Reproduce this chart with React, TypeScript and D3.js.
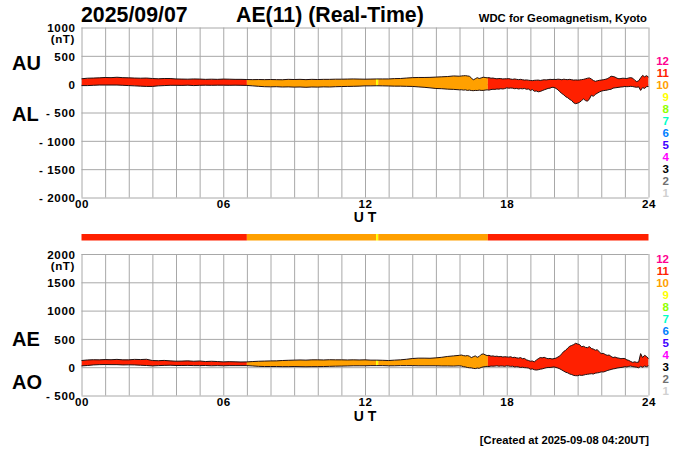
import * as d3 from 'd3'
import React, { useEffect, useRef } from 'react'

// every 15 minutes up to 16 UT, every 5 minutes after that
const au = [
    95, 105, 108, 112, 118, 115, 122, 115, 112, 108, 105, 108, 100, 95, 100, 100,
    92, 90, 88, 92, 90, 85, 88, 85, 90, 88, 85, 85, 82, 80, 82, 80,
    82, 80, 78, 85, 82, 85, 80, 85, 82, 85, 85, 88, 88, 90, 92, 90,
    88, 90, 92, 92, 92, 98, 100, 108, 115, 118, 118, 120, 125, 130, 135, 145,
    140, 145, 148, 150, 145, 140, 112, 75, 95, 115, 100, 110,
    123, 118, 112, 115, 105, 108, 100, 95, 100, 98, 92, 95,
    95, 98, 90, 85, 92, 85, 80, 85, 78, 72, 75, 70,
    65, 62, 68, 70, 72, 65, 72, 78, 75, 80, 85, 82,
    85, 82, 88, 85, 78, 88, 82, 80, 85, 78, 72, 75,
    72, 75, 80, 85, 95, 105, 110, 90, 65, 50, 60, 68,
    72, 78, 85, 95, 115, 140, 135, 125, 105, 95, 100, 105,
    102, 100, 110, 115, 105, 70, 45, 60, 110, 155, 130, 150,
    125,
]
const al = [
    -25, -25, -20, -15, -15, -15, -15, -20, -25, -30, -35, -40, -40, -30, -25, -20,
    -20, -22, -18, -25, -20, -18, -20, -18, -18, -20, -18, -20, -22, -30, -38, -45,
    -47, -45, -50, -48, -52, -50, -55, -50, -52, -48, -50, -45, -42, -40, -38, -35,
    -30, -30, -28, -30, -32, -35, -35, -38, -40, -48, -55, -65, -76, -80, -88, -92,
    -100, -98, -105, -100, -110, -105, -112, -115, -110, -112, -105, -110,
    -110, -105, -100, -105, -95, -90, -92, -85, -88, -80, -85, -78,
    -65, -72, -68, -70, -80, -75, -85, -78, -82, -75, -90, -85,
    -110, -95, -125, -120, -135, -128, -115, -100, -88, -75, -70, -55,
    -58, -75, -100, -135, -165, -190, -223, -240, -270, -290, -330, -345,
    -335, -320, -290, -260, -290, -300, -260, -195, -215, -180, -160, -140,
    -123, -115, -110, -105, -95, -90, -70, -65, -60, -55, -50, -48,
    -40, -45, -42, -38, -42, -50, -55, -48, -110, -60, -75, -45,
    -40,
]
const ae = [
    118, 128, 132, 130, 135, 132, 138, 130, 130, 138, 135, 140, 118, 115, 120, 112,
    106, 108, 112, 105, 110, 100, 105, 100, 94, 98, 95, 92, 94, 100, 105, 108,
    111, 112, 118, 122, 125, 128, 125, 130, 130, 128, 132, 130, 130, 128, 130, 128,
    130, 125, 125, 122, 118, 125, 130, 140, 153, 160, 160, 158, 165, 175, 190, 200,
    210, 215, 205, 200, 205, 195, 170, 185, 200, 175, 190, 225,
    235, 220, 205, 210, 195, 200, 190, 195, 185, 190, 180, 185,
    182, 178, 185, 170, 175, 165, 160, 170, 150, 155, 130, 120,
    105, 110, 95, 125, 150, 170, 165, 175, 160, 150, 155, 145,
    152, 160, 180, 200, 240, 280, 300, 340, 370, 385, 400, 423,
    410, 400, 360, 370, 350, 345, 365, 330, 320, 300, 310, 270,
    240, 245, 225, 210, 215, 190, 170, 180, 165, 160, 150, 155,
    152, 130, 120, 100, 85, 95, 85, 90, 240, 170, 210, 190,
    150,
]
const ao = [
    23, 30, 40, 45, 47, 45, 45, 40, 42, 40, 35, 30, 23, 28, 32, 35,
    30, 30, 32, 28, 28, 30, 25, 28, 25, 28, 28, 28, 28, 22, 15, 12,
    12, 12, 10, 10, 12, 10, 8, 10, 10, 12, 15, 18, 20, 22, 25, 25,
    25, 28, 28, 28, 25, 25, 28, 28, 28, 25, 25, 25, 25, 22, 22, 20,
    25, 20, 10, 5, -5, -10, -12, -20, -25, -15, -20, -5,
    5, 10, 15, 12, 20, 18, 20, 25, 18, 22, 20, 15,
    25, 20, 15, 18, 5, 10, 5, -5, 0, -8, -10, -15,
    -35, -30, -45, -50, -45, -35, -30, -20, -10, -5, -5, 0,
    5, -5, -15, -30, -50, -70, -90, -100, -120, -130, -145, -150,
    -150, -140, -145, -140, -130, -125, -120, -115, -120, -105, -100, -95,
    -82, -85, -75, -60, -50, -40, -30, -25, -15, -10, -5, 0,
    10, 5, 15, 20, 10, 5, 0, -10, 15, 0, 20, 10,
    25,
]
const hours = au.map((_, i) => (i < 64 ? i / 4 : 16 + (i - 64) / 12))

// activity class along the day
const classStarts = [0, 7, 12.47, 12.56, 17.2]
const classEnds = [7, 12.47, 12.56, 17.2, 24]
const classValues = [11, 10, 9, 10, 11]

const legendLabels = [12, 11, 10, 9, 8, 7, 6, 5, 4, 3, 2, 1]
const legendColors = ['#ff0090', '#ff2000', '#ffa000', '#ffff00', '#90ff00', '#00ffc8', '#0080ff', '#4000ff', '#ff00ff', '#000000', '#707070', '#d0d0d0']
const colorOf = (c: number) => legendColors[legendLabels.indexOf(c)]

const hourTicks = d3.range(0, 25)
const labelledHours = [0, 6, 12, 18, 24]
const upperTicks = [1000, 500, 0, -500, -1000, -1500, -2000]
const lowerTicks = [2000, 1500, 1000, 500, 0, -500]

const font = '"Liberation Sans", Arial, sans-serif'
const x = d3.scaleLinear().domain([0, 24]).range([81.5, 648.5])

const Panel = (props: {
    id: string
    domain: number[]
    range: number[]
    ticks: number[]
    top: number[]
    bottom: number[]
}): JSX.Element => {
    const gridRef = useRef<SVGGElement>(null)
    const { id, domain, range, ticks, top, bottom } = props
    const y = d3.scaleLinear().domain(domain).range(range)

    useEffect(() => {
        const g = d3.select(gridRef.current)
        g.selectAll('*').remove()
        const xAxis = d3
            .axisBottom(x)
            .tickValues(hourTicks)
            .tickFormat((d) => (labelledHours.includes(+d) ? d3.format('02')(+d) : ''))
        const yAxis = d3
            .axisLeft(y)
            .tickValues(ticks)
            .tickSize(-(x.range()[1] - x.range()[0]))
            .tickPadding(6)
            .tickFormat((d) => (+d < 0 ? `- ${Math.abs(+d)}` : `${d}`))
        const xg = g.append('g').attr('transform', `translate(0,${range[0]})`).call(xAxis)
        xg.selectAll('line').attr('y2', range[1] - range[0])
        xg.selectAll('text').attr('dy', 0).attr('y', 10.5)
        const yg = g.append('g').attr('transform', `translate(${x.range()[0]},0)`).call(yAxis)
        g.selectAll('.domain').remove()
        g.selectAll('line').attr('stroke', '#a8a8a8').attr('stroke-width', 1)
        g.selectAll('text')
            .attr('fill', '#000')
            .style('font-family', font)
            .style('font-size', '11.6px')
            .style('font-weight', 700)
            .style('letter-spacing', '0.6px')
        yg.selectAll('text').attr('dy', '0.36em')
    }, [])

    const topLine = d3
        .line<number>()
        .x((_, i) => x(hours[i]))
        .y((d) => y(d))
    const area = d3
        .area<number>()
        .x((_, i) => x(hours[i]))
        .y0((_, i) => y(bottom[i]))
        .y1((d) => y(d))

    return (
        <g>
            <g ref={gridRef} />
            <clipPath id={`clip-${id}`}>
                <path d={area(top) as string} />
            </clipPath>
            <g clipPath={`url(#clip-${id})`}>
                {classStarts.map((s, i) => (
                    <rect
                        key={s}
                        x={x(s)}
                        width={x(classEnds[i]) - x(s)}
                        y={y.range()[1]}
                        height={y.range()[0] - y.range()[1]}
                        fill={colorOf(classValues[i])}
                    />
                ))}
            </g>
            <path d={topLine(top) as string} fill="none" stroke="#201010" strokeWidth={1} />
            <path d={topLine(bottom) as string} fill="none" stroke="#201010" strokeWidth={1} />
        </g>
    )
}

const Legend = (props: { startY: number }): JSX.Element => (
    <g fontFamily={font} fontWeight={700} fontSize={11.5} textAnchor="end">
        {legendLabels.map((label, i) => (
            <text key={label} x={669} y={props.startY + i * 12.06} fill={legendColors[i]}>
                {label}
            </text>
        ))}
    </g>
)

const App = (): JSX.Element => {
    const title = { fontFamily: font, fontWeight: 700, fontSize: 21.3 }
    const bigLabel = { fontFamily: font, fontWeight: 700, fontSize: 20 }
    const small = { fontFamily: font, fontWeight: 700, fontSize: 11.6, textAnchor: 'end' as const, letterSpacing: 0.6 }
    const ut = { fontFamily: font, fontWeight: 700, fontSize: 14, textAnchor: 'middle' as const }
    return (
        <svg width={700} height={450} style={{ position: 'absolute', left: 0, top: 0, display: 'block', background: '#fff' }}>
            <text x={81} y={22} {...title}>2025/09/07</text>
            <text x={236} y={22} {...title}>AE(11) (Real-Time)</text>
            <text x={647} y={22} fontFamily={font} fontWeight={700} fontSize={11.3} textAnchor="end">
                WDC for Geomagnetism, Kyoto
            </text>

            <Panel id="upper" domain={[-2000, 1000]} range={[197.5, 27.5]} ticks={upperTicks} top={au} bottom={al} />
            <text x={75} y={43} {...small}>(nT)</text>
            <text x={12} y={70} {...bigLabel}>AU</text>
            <text x={12} y={121} {...bigLabel}>AL</text>
            <text x={365} y={222} {...ut}>U T</text>
            <Legend startY={64.8} />

            {classStarts.map((s, i) => (
                <rect key={s} x={x(s)} width={x(classEnds[i]) - x(s)} y={234} height={6.5} fill={colorOf(classValues[i])} />
            ))}

            <Panel id="lower" domain={[-500, 2000]} range={[395.5, 254]} ticks={lowerTicks} top={ae} bottom={ao} />
            <text x={75} y={270} {...small}>(nT)</text>
            <text x={12} y={346} {...bigLabel}>AE</text>
            <text x={12} y={389} {...bigLabel}>AO</text>
            <text x={365} y={421} {...ut}>U T</text>
            <Legend startY={262.8} />

            <text x={649} y={444} fontFamily={font} fontWeight={700} fontSize={11.2} textAnchor="end">
                [Created at 2025-09-08 04:20UT]
            </text>
        </svg>
    )
}

export default App
